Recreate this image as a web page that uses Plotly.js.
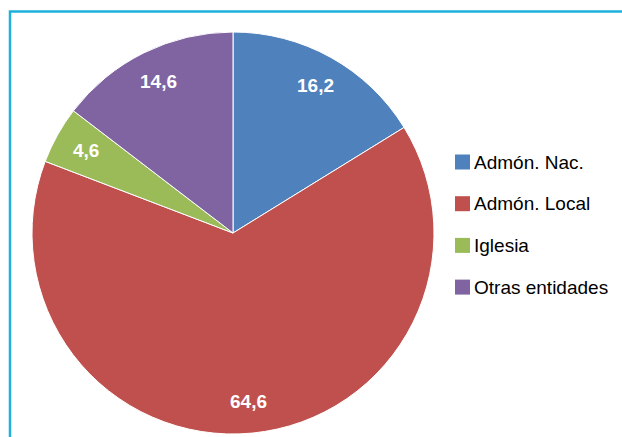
<!DOCTYPE html>
<html>
<head>
<meta charset="utf-8">
<script src="https://cdn.plot.ly/plotly-3.0.1.min.js"></script>
<style>html,body{margin:0;padding:0;background:#fff;}#chart{width:622px;height:437px;}</style>
</head>
<body>
<div id="chart"></div>
<script>
var categories = ['Admón. Nac.', 'Admón. Local', 'Iglesia', 'Otras entidades'];
var values = [16.2, 64.6, 4.6, 14.6];
var colors = ['#4f81bd', '#c0504d', '#9bbb59', '#8064a2'];

var W = 622, H = 437;
var font = '"Liberation Sans", Arial, sans-serif';

// pie geometry (pixels)
var px0 = 32, px1 = 434, py0 = 32, py1 = 434;
var cx = (px0 + px1) / 2, cy = (py0 + py1) / 2, R = (px1 - px0) / 2;

var trace = {
  type: 'pie',
  labels: categories,
  values: values,
  sort: false,
  direction: 'clockwise',
  rotation: 0,
  marker: {colors: colors, line: {color: '#ffffff', width: 1}},
  textinfo: 'none',
  hoverinfo: 'label+value',
  showlegend: false,
  domain: {x: [px0 / W, px1 / W], y: [1 - py1 / H, 1 - py0 / H]}
};

var shapes = [
  {type: 'path', xref: 'paper', yref: 'paper',
   path: 'M ' + (10 / W) + ' 0 L ' + (10 / W) + ' ' + (1 - 11.5 / H) + ' L 1 ' + (1 - 11.5 / H),
   line: {color: '#1eb1dc', width: 2.5}}
];
var annotations = [];

// data labels placed along each slice's middle angle
var total = values.reduce(function (a, b) { return a + b; }, 0);
var cum = 0;
values.forEach(function (v, i) {
  var mid = (cum + v / 2) / total * 2 * Math.PI;
  cum += v;
  var r = 0.84 * R;
  var x = cx + r * Math.sin(mid), y = cy - r * Math.cos(mid);
  annotations.push({xref: 'paper', yref: 'paper', x: x / W, y: 1 - y / H,
    xanchor: 'center', yanchor: 'middle', showarrow: false,
    text: v.toFixed(1).replace('.', ','),
    font: {family: font, size: 19, color: '#ffffff', weight: 'bold'}});
});

// legend drawn from the category list
var legTop = 162, legGap = 41.7, sq = 15;
categories.forEach(function (c, i) {
  var yc = legTop + i * legGap;
  shapes.push({type: 'rect', xref: 'paper', yref: 'paper',
    x0: 455 / W, x1: (455 + sq) / W, y0: 1 - (yc + sq / 2) / H, y1: 1 - (yc - sq / 2) / H,
    fillcolor: colors[i], line: {width: 0}});
  annotations.push({xref: 'paper', yref: 'paper', x: 472 / W, y: 1 - yc / H,
    xanchor: 'left', yanchor: 'middle', showarrow: false, text: c,
    font: {family: font, size: 19, color: '#000000'}});
});

var layout = {
  width: W, height: H,
  margin: {l: 0, r: 0, t: 0, b: 0},
  paper_bgcolor: '#ffffff',
  separators: ',.',
  showlegend: false,
  shapes: shapes,
  annotations: annotations
};

Plotly.newPlot('chart', [trace], layout, {displayModeBar: false, staticPlot: true});
</script>
</body>
</html>
